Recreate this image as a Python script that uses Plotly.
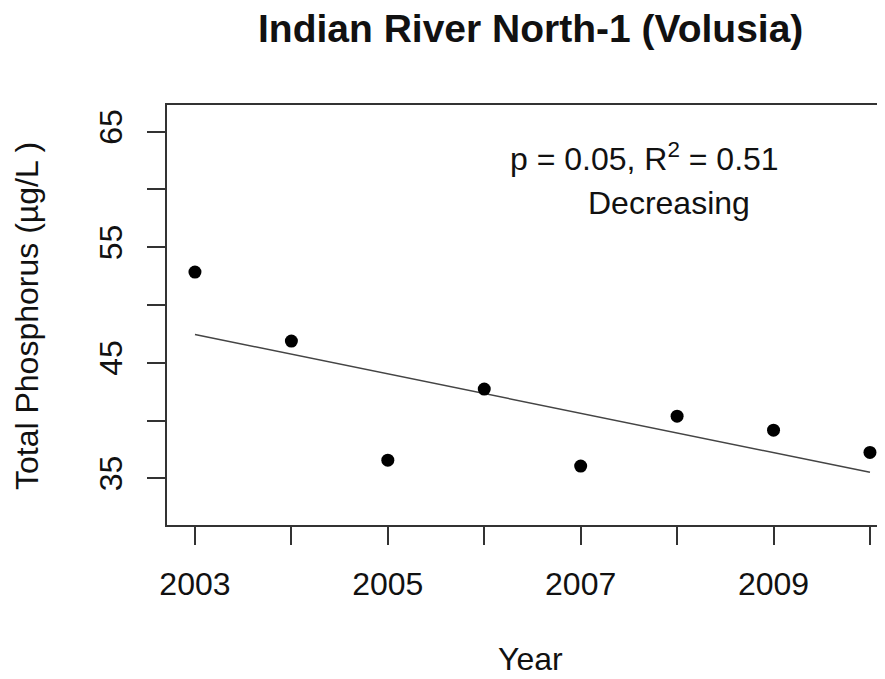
import numpy as np
import plotly.graph_objects as go

years = [2003, 2004, 2005, 2006, 2007, 2008, 2009, 2010]
tp = [52.85, 46.88, 36.57, 42.72, 36.06, 40.38, 39.17, 37.24]
x_tick_vals = [2003, 2005, 2007, 2009]
y_tick_vals = [35, 45, 55, 65]

slope, intercept = np.polyfit(years, tp, 1)
fit = [slope * x + intercept for x in years]

# page body has an 8px default margin; compensate so the plot lands on the 885x679 window
OFF = 8
W, H = 885 - OFF, 679 - OFF
ML, MR, MT, MB = 167 - OFF, 0, 105 - OFF, 154
PW, PH = W - ML - MR, H - MT - MB

def px(xp):
    return (xp - OFF - ML) / PW

def py(yp):
    return (H - MB - (yp - OFF)) / PH

FONT = "Liberation Sans, Arial, sans-serif"
TXT = "#111111"
AX = "#333333"

fig = go.Figure()
fig.add_trace(go.Scatter(x=years, y=fit, mode="lines",
                         line=dict(color="#444444", width=1.5),
                         showlegend=False, hoverinfo="skip"))
fig.add_trace(go.Scatter(x=years, y=tp, mode="markers",
                         marker=dict(color="black", size=13),
                         showlegend=False))

fig.update_layout(
    width=W, height=H,
    margin=dict(l=ML, r=MR, t=MT, b=MB, pad=0),
    paper_bgcolor="white", plot_bgcolor="white",
    font=dict(family=FONT, size=32, color=TXT),
    xaxis=dict(range=[2002.71, 2010.156], tickvals=x_tick_vals,
               ticks="outside", ticklen=18, tickwidth=1.5, tickcolor=AX,
               minor=dict(dtick=1, tick0=2003, ticks="outside", ticklen=18,
                          tickwidth=1.5, tickcolor=AX, showgrid=False),
               showline=True, linecolor=AX, linewidth=1.5, mirror=True,
               showgrid=False, zeroline=False, ticklabelstandoff=12,
               tickfont=dict(family=FONT, size=32, color=TXT)),
    yaxis=dict(range=[30.96, 67.31], tickvals=y_tick_vals,
               ticks="outside", ticklen=18, tickwidth=1.5, tickcolor=AX,
               minor=dict(dtick=5, tick0=35, ticks="outside", ticklen=18,
                          tickwidth=1.5, tickcolor=AX, showgrid=False),
               showline=True, linecolor=AX, linewidth=1.5,
               showgrid=False, zeroline=False, tickangle=-90, ticklabelstandoff=12,
               tickfont=dict(family=FONT, size=32, color=TXT)),
)

annotations = [
    dict(text="<b>Indian River North-1 (Volusia)</b>", x=px(530.5), y=py(29),
         font=dict(size=39, family=FONT, color=TXT)),
    dict(text="Year", x=px(530), y=py(659), font=dict(size=32, family=FONT, color=TXT)),
    dict(text="Total Phosphorus (µg/L )", x=px(27), y=py(316), textangle=-90,
         font=dict(size=32, family=FONT, color=TXT)),
    dict(text="p = 0.05, R<sup>2</sup> = 0.51", x=px(644), y=py(157),
         font=dict(size=32, family=FONT, color=TXT)),
    dict(text="Decreasing", x=px(669), y=py(203), font=dict(size=32, family=FONT, color=TXT)),
]
for a in annotations:
    a.update(xref="paper", yref="paper", showarrow=False, xanchor="center", yanchor="middle")
fig.update_layout(annotations=annotations)

fig.write_html("out.html")
